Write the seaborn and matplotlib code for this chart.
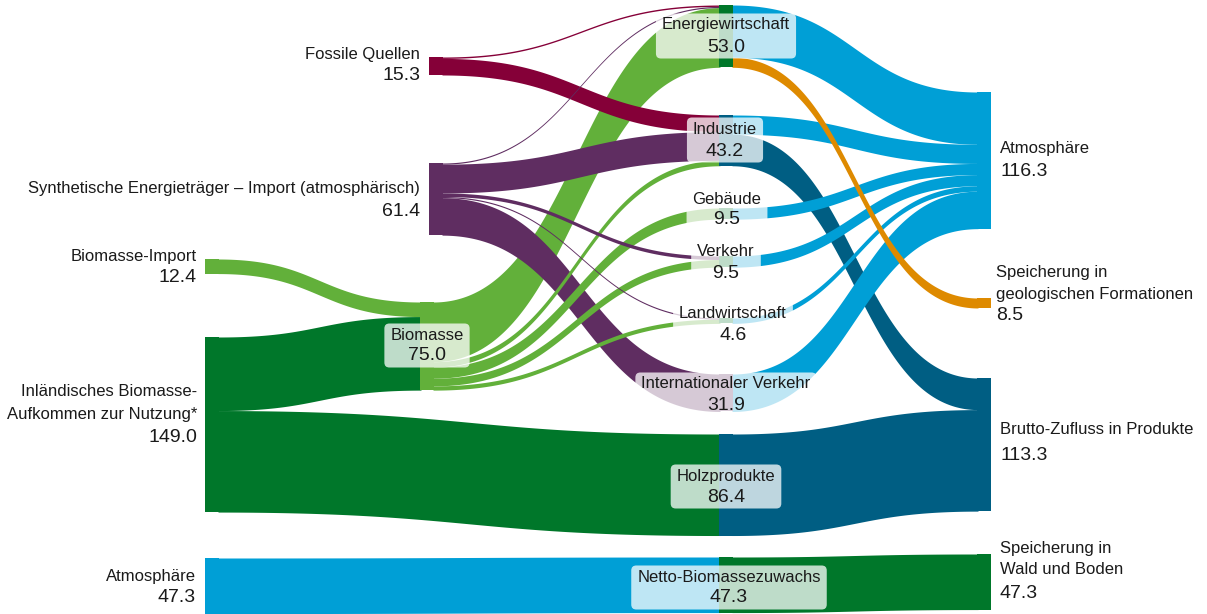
import matplotlib.pyplot as plt
import numpy as np
import seaborn as sns
from matplotlib.patches import FancyBboxPatch

sns.set_theme(style="white")
plt.rcParams['font.family'] = ['Liberation Sans', 'DejaVu Sans']

# --- data -----------------------------------------------------------------
node_keys = ["fossil", "synth", "bio_import", "bio_dom", "atm_in", "biomasse",
             "energie", "industrie", "gebaeude", "verkehr", "landw", "intl",
             "holz", "netto", "atm_out", "geo", "brutto", "wald"]
node_labels = ["Fossile Quellen",
               "Synthetische Energieträger – Import (atmosphärisch)",
               "Biomasse-Import",
               "Inländisches Biomasse-\nAufkommen zur Nutzung*",
               "Atmosphäre",
               "Biomasse",
               "Energiewirtschaft", "Industrie", "Gebäude", "Verkehr",
               "Landwirtschaft", "Internationaler Verkehr", "Holzprodukte",
               "Netto-Biomassezuwachs",
               "Atmosphäre",
               "Speicherung in\ngeologischen Formationen",
               "Brutto-Zufluss in Produkte",
               "Speicherung in\nWald und Boden"]
node_values = [15.3, 61.4, 12.4, 149.0, 47.3, 75.0,
               53.0, 43.2, 9.5, 9.5, 4.6, 31.9, 86.4, 47.3,
               116.3, 8.5, 113.3, 47.3]

# links in drawing order
link_source = ["biomasse", "bio_import", "bio_dom", "bio_dom", "atm_in",
               "synth", "synth", "fossil", "fossil", "synth",
               "biomasse", "biomasse", "biomasse", "biomasse", "synth", "synth",
               "holz", "netto", "industrie", "energie", "intl", "industrie",
               "gebaeude", "verkehr", "landw", "energie"]
link_target = ["energie", "biomasse", "biomasse", "holz", "netto",
               "intl", "industrie", "industrie", "energie", "energie",
               "industrie", "gebaeude", "verkehr", "landw", "verkehr", "landw",
               "brutto", "wald", "brutto", "atm_out", "atm_out", "atm_out",
               "atm_out", "atm_out", "atm_out", "geo"]
link_value = [50.8, 12.4, 62.6, 86.4, 47.3,
              31.9, 24.5, 14.1, 1.2, 1.0,
              4.6, 9.5, 6.5, 3.6, 3.0, 1.0,
              86.4, 47.3, 26.9, 44.5, 31.9, 16.3,
              9.5, 9.5, 4.6, 8.5]

# --- layout ---------------------------------------------------------------
SCALE = 1.175   # px per unit
NW = 14         # node width in px

node_pos = {  # left x, top y (px)
    "fossil": (429, 57), "synth": (429, 163), "bio_import": (205, 259),
    "bio_dom": (205, 337), "atm_in": (205, 558), "biomasse": (420, 302),
    "energie": (719, 5), "industrie": (719, 115), "gebaeude": (719, 208),
    "verkehr": (719, 256), "landw": (719, 318), "intl": (719, 374),
    "holz": (719, 434), "netto": (719, 557),
    "atm_out": (977, 92), "geo": (977, 298), "brutto": (977, 378), "wald": (977, 554),
}

RED, PURPLE, LGREEN, DGREEN = "#850038", "#5f2d61", "#62b03a", "#00772a"
BLUE, TEAL, ORANGE = "#009fd6", "#005e83", "#de8a00"

node_color = {
    "fossil": RED, "synth": PURPLE, "bio_import": LGREEN, "bio_dom": DGREEN,
    "atm_in": BLUE, "biomasse": LGREEN, "energie": DGREEN, "industrie": TEAL,
    "gebaeude": DGREEN, "verkehr": DGREEN, "landw": DGREEN, "intl": PURPLE,
    "holz": TEAL, "netto": DGREEN, "atm_out": BLUE, "geo": ORANGE,
    "brutto": TEAL, "wald": DGREEN,
}
right_column = {"atm_out", "geo", "brutto", "wald"}

# outer labels: x, ha, y of each line (name lines..., value)
outer_labels = {
    "fossil": (420, "right", [54, 75]),
    "synth": (420, "right", [188, 211]),
    "bio_import": (197, "right", [256, 277]),
    "bio_dom": (197, "right", [391, 414, 437]),
    "atm_in": (196, "right", [576, 598]),
    "atm_out": (1000, "left", [149, 172]),
    "geo": (996, "left", [272, 294, 316]),
    "brutto": (1000, "left", [430, 455]),
    "wald": (1000, "left", [549, 570, 593]),
}
# boxed labels: x centre, y name, y value
boxed_labels = {
    "biomasse": (427, 335, 356), "energie": (726, 25, 47),
    "industrie": (725, 129, 151), "gebaeude": (727, 199, 220),
    "verkehr": (726, 252, 273), "landw": (733, 313, 335),
    "intl": (726, 384, 406), "holz": (726, 476, 497), "netto": (729, 577, 598),
}

TXT = "#1a1a1a"
NAME_FS, VALUE_FS = 12, 14

fig = plt.figure(figsize=(12.07, 6.14), dpi=100)
ax = fig.add_axes([0, 0, 1, 1])
ax.set_xlim(0, 1207)
ax.set_ylim(614, 0)
ax.axis("off")

val = dict(zip(node_keys, node_values))
lab = dict(zip(node_keys, node_labels))

# stacking of links at both ends
idx = range(len(link_value))
y_src, y_tgt = {}, {}
for k in node_keys:
    outs = sorted([i for i in idx if link_source[i] == k], key=lambda i: node_pos[link_target[i]][1])
    off = node_pos[k][1]
    for i in outs:
        y_src[i] = off
        off += link_value[i] * SCALE
    ins = sorted([i for i in idx if link_target[i] == k], key=lambda i: node_pos[link_source[i]][1])
    off = node_pos[k][1]
    for i in ins:
        y_tgt[i] = off
        off += link_value[i] * SCALE

t = np.linspace(0, 1, 160)
for i in idx:
    s, g = link_source[i], link_target[i]
    # overlap the node bars by 1px so no seam shows
    x0 = node_pos[s][0] + NW - 1
    x1 = node_pos[g][0] + 1
    xm = (x0 + x1) / 2
    xs = (1 - t) ** 3 * x0 + 3 * (1 - t) ** 2 * t * xm + 3 * (1 - t) * t ** 2 * xm + t ** 3 * x1
    blend = 3 * (1 - t) * t ** 2 + t ** 3
    h = link_value[i] * SCALE
    top = y_src[i] + (y_tgt[i] - y_src[i]) * blend
    color = node_color[g] if g in right_column else node_color[s]
    ax.fill_between(xs, top, top + h, color=color, linewidth=0, zorder=1)

for k in node_keys:
    x, y = node_pos[k]
    ax.bar(x, val[k] * SCALE, width=NW, bottom=y, align="edge",
           color=node_color[k], linewidth=0, zorder=2)

# outer labels
for k, (x, ha, ys) in outer_labels.items():
    lines = lab[k].split("\n")
    for line, y in zip(lines, ys):
        ax.text(x, y, line, ha=ha, va="center", fontsize=NAME_FS, color=TXT, zorder=5)
    ax.text(x, ys[-1], f"{val[k]:.1f}", ha=ha, va="center", fontsize=VALUE_FS, color=TXT, zorder=5)

# boxed labels in the middle
boxed_texts = []
for k, (x, yn, yv) in boxed_labels.items():
    t1 = ax.text(x, yn, lab[k], ha="center", va="center", fontsize=NAME_FS, color=TXT, zorder=5)
    t2 = ax.text(x, yv, f"{val[k]:.1f}", ha="center", va="center", fontsize=VALUE_FS, color=TXT, zorder=5)
    boxed_texts.append((t1, t2))

fig.canvas.draw()
renderer = fig.canvas.get_renderer()
inv = ax.transData.inverted()
for t1, t2 in boxed_texts:
    b1 = t1.get_window_extent(renderer)
    b2 = t2.get_window_extent(renderer)
    x0d, x1d = min(b1.x0, b2.x0), max(b1.x1, b2.x1)
    y0d, y1d = min(b1.y0, b2.y0), max(b1.y1, b2.y1)
    (xa, ya), (xb, yb) = inv.transform([(x0d, y0d), (x1d, y1d)])
    left, right = min(xa, xb) - 6, max(xa, xb) + 6
    top, bottom = min(ya, yb) - 4, max(ya, yb) + 3
    box = FancyBboxPatch((left, top), right - left, bottom - top,
                         boxstyle="round,pad=0,rounding_size=5",
                         facecolor="white", edgecolor="none", alpha=0.75, zorder=4)
    ax.add_patch(box)

fig.savefig("out.png", dpi=100)
